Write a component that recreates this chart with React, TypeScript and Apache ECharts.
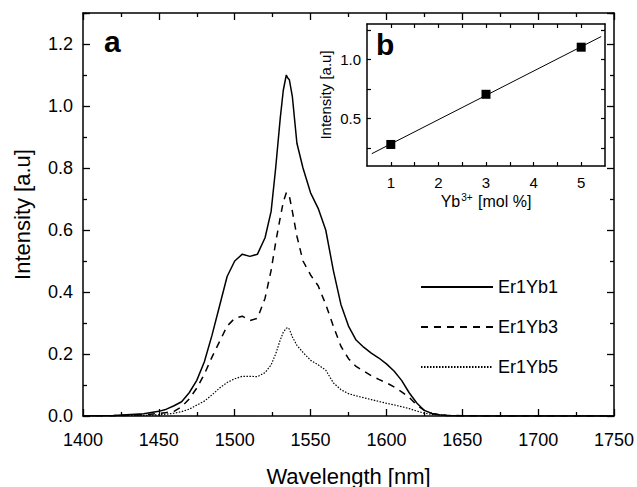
import React, { useEffect, useRef } from "react";
import * as echarts from "echarts";

const wavelengths = [
  1400, 1420, 1440, 1450, 1455, 1460, 1465, 1470, 1475, 1480, 1485, 1490, 1495, 1500, 1505, 1510,
  1515, 1520, 1524, 1527, 1530, 1532, 1534, 1535, 1536, 1538, 1541, 1545, 1550, 1555, 1560, 1565,
  1570, 1575, 1580, 1585, 1590, 1595, 1600, 1605, 1610, 1615, 1620, 1625, 1630, 1635, 1640, 1650,
  1670, 1700, 1750,
];
const er1yb1 = [
  0.0, 0.002, 0.007, 0.015, 0.022, 0.033, 0.046, 0.075, 0.115, 0.175, 0.26, 0.355, 0.45, 0.5, 0.522, 0.515,
  0.522, 0.575, 0.66, 0.8, 0.96, 1.05, 1.1, 1.09, 1.085, 1.03, 0.88, 0.8, 0.72, 0.67, 0.6, 0.47,
  0.36, 0.29, 0.245, 0.222, 0.203, 0.187, 0.168, 0.145, 0.115, 0.075, 0.042, 0.018, 0.008, 0.004, 0.002, 0.001,
  0.0, 0.0, 0.0,
];
const er1yb3 = [
  0.0, 0.001, 0.004, 0.008, 0.011, 0.015, 0.03, 0.055, 0.09, 0.135, 0.19, 0.24, 0.29, 0.315, 0.322, 0.308,
  0.315, 0.38, 0.47, 0.56, 0.64, 0.69, 0.72, 0.72, 0.71, 0.66, 0.58, 0.5, 0.455, 0.42, 0.36, 0.29,
  0.225, 0.185, 0.16, 0.145, 0.13, 0.118, 0.107, 0.094, 0.078, 0.06, 0.035, 0.018, 0.008, 0.004, 0.002, 0.001,
  0.0, 0.0, 0.0,
];
const er1yb5 = [
  0.0, 0.001, 0.002, 0.004, 0.006, 0.009, 0.014, 0.022, 0.035, 0.048, 0.068, 0.09, 0.108, 0.12, 0.128, 0.128,
  0.127, 0.14, 0.165, 0.2, 0.245, 0.27, 0.283, 0.285, 0.28, 0.255, 0.228, 0.205, 0.18, 0.165, 0.148, 0.107,
  0.085, 0.072, 0.065, 0.059, 0.053, 0.047, 0.041, 0.036, 0.03, 0.024, 0.016, 0.009, 0.005, 0.003, 0.001, 0.0,
  0.0, 0.0, 0.0,
];
const seriesNames = ["Er1Yb1", "Er1Yb3", "Er1Yb5"];

const ybContent = [1, 3, 5];
const ybIntensity = [0.282, 0.706, 1.104];
const fitX = [0.6, 5.42];
const fitY = [0.204, 1.194];

const insetXTicks = [1, 1.5, 2, 2.5, 3, 3.5, 4, 4.5, 5];
const insetXLabels = [1, 2, 3, 4, 5];
const insetYTicks = [0.25, 0.5, 0.75, 1.0, 1.25];
const insetYLabels = [0.5, 1.0];

const FONT = "Liberation Sans, Arial, Helvetica, sans-serif";

const axisLine = () => ({ show: true, onZero: false, lineStyle: { color: "#000", width: 1.5 } });
const mainTick = () => ({ show: true, inside: true, length: 7, lineStyle: { color: "#000", width: 1.3 } });
const mainMinor = () => ({ show: true, splitNumber: 2, length: 4, lineStyle: { color: "#000", width: 1.3 } });
const insetTick = (vals: number[]) => ({
  show: true, inside: true, length: 4, customValues: vals, lineStyle: { color: "#000", width: 1.2 },
});

function mainOption(): any {
  const zip = (ys: number[]) => wavelengths.map((w, i) => [w, ys[i]]);
  const dashes: any[] = ["solid", [7, 6], [1.5, 1.5]];
  const datas = [er1yb1, er1yb3, er1yb5];
  return {
    animation: false,
    backgroundColor: "#fff",
    textStyle: { fontFamily: FONT, color: "#000" },
    grid: [{ left: 83, top: 13, right: 23, bottom: 71, outerBoundsMode: "none" }],
    legend: {
      data: seriesNames,
      orient: "vertical",
      left: 420,
      top: 278,
      padding: 0,
      itemWidth: 72,
      itemHeight: 14,
      itemGap: 22,
      itemStyle: { opacity: 0 },
      textStyle: { fontSize: 18, color: "#000", fontFamily: FONT },
    },
    xAxis: [
      {
        type: "value", min: 1400, max: 1750, interval: 50, position: "bottom",
        axisLine: axisLine(), axisTick: mainTick(), minorTick: mainMinor(), splitLine: { show: false },
        axisLabel: { fontSize: 18, color: "#000", margin: 15, fontFamily: FONT, formatter: (v: number) => String(v) },
        name: "Wavelength [nm]", nameLocation: "middle", nameGap: 49,
        nameTextStyle: { fontSize: 22, color: "#000", fontFamily: FONT },
      },
      {
        type: "value", min: 1400, max: 1750, interval: 50, position: "top",
        axisLine: axisLine(), axisTick: mainTick(), minorTick: mainMinor(), splitLine: { show: false },
        axisLabel: { show: false },
      },
    ],
    yAxis: [
      {
        type: "value", min: 0, max: 1.3, interval: 0.2, position: "left",
        axisLine: axisLine(), axisTick: mainTick(), minorTick: mainMinor(), splitLine: { show: false },
        axisLabel: {
          fontSize: 18, color: "#000", margin: 10, fontFamily: FONT,
          formatter: (v: number) => (v > 1.25 ? "" : v.toFixed(1)),
        },
        name: "Intensity [a.u]", nameLocation: "middle", nameGap: 50,
        nameTextStyle: { fontSize: 22, color: "#000", fontFamily: FONT },
      },
      {
        type: "value", min: 0, max: 1.3, interval: 0.2, position: "right",
        axisLine: axisLine(), axisTick: mainTick(), minorTick: mainMinor(), splitLine: { show: false },
        axisLabel: { show: false },
      },
    ],
    series: seriesNames.map((n, i) => ({
      name: n,
      type: "line",
      symbol: "none",
      data: zip(datas[i]),
      lineStyle: { color: "#000", width: i === 2 ? 1.2 : 1.5, type: dashes[i] },
      itemStyle: { color: "#000" },
    })),
    graphic: [
      { type: "text", left: 104, top: 26, style: { text: "a", font: `bold 30px ${FONT}`, fill: "#000" } },
    ],
  };
}

function insetOption(): any {
  return {
    animation: false,
    backgroundColor: "transparent",
    textStyle: { fontFamily: FONT, color: "#000" },
    grid: [{ left: 367, top: 24, right: 32, bottom: 321, outerBoundsMode: "none" }],
    xAxis: [
      {
        type: "value", min: 0.5, max: 5.5, position: "bottom",
        axisLine: axisLine(), axisTick: insetTick(insetXTicks), splitLine: { show: false },
        axisLabel: { customValues: insetXLabels, fontSize: 15, color: "#000", margin: 9, fontFamily: FONT },
        name: "Yb{sup|3+} [mol %]", nameLocation: "middle", nameGap: 26,
        nameTextStyle: {
          fontSize: 16, color: "#000", fontFamily: FONT,
          rich: { sup: { fontSize: 10, verticalAlign: "top", padding: [0, 1, 8, 1], fontFamily: FONT, color: "#000" } },
        },
      },
      {
        type: "value", min: 0.5, max: 5.5, position: "top",
        axisLine: axisLine(), axisTick: insetTick(insetXTicks), splitLine: { show: false },
        axisLabel: { show: false },
      },
    ],
    yAxis: [
      {
        type: "value", min: 0.1, max: 1.3, position: "left",
        axisLine: axisLine(), axisTick: insetTick(insetYTicks), splitLine: { show: false },
        axisLabel: {
          customValues: insetYLabels, fontSize: 15, color: "#000", margin: 6, fontFamily: FONT,
          formatter: (v: number) => v.toFixed(1),
        },
        name: "Intensity [a.u]", nameLocation: "middle", nameGap: 34,
        nameTextStyle: { fontSize: 15, color: "#000", fontFamily: FONT },
      },
      {
        type: "value", min: 0.1, max: 1.3, position: "right",
        axisLine: axisLine(), axisTick: insetTick(insetYTicks), splitLine: { show: false },
        axisLabel: { show: false },
      },
    ],
    series: [
      {
        name: "fit",
        type: "line",
        symbol: "none",
        data: fitX.map((x, i) => [x, fitY[i]]),
        lineStyle: { color: "#000", width: 1 },
      },
      {
        name: "points",
        type: "scatter",
        symbol: "rect",
        symbolSize: 9,
        data: ybContent.map((x, i) => [x, ybIntensity[i]]),
        itemStyle: { color: "#000", opacity: 1 },
      },
    ],
    graphic: [
      { type: "text", left: 376, top: 29, style: { text: "b", font: `bold 30px ${FONT}`, fill: "#000" } },
    ],
  };
}

export default function App() {
  const mainRef = useRef<HTMLDivElement>(null);
  const insetRef = useRef<HTMLDivElement>(null);
  useEffect(() => {
    document.body.style.margin = "0";
    const main = echarts.init(mainRef.current!, null, { renderer: "svg" });
    main.setOption(mainOption());
    const inset = echarts.init(insetRef.current!, null, { renderer: "svg" });
    inset.setOption(insetOption());
    return () => {
      main.dispose();
      inset.dispose();
    };
  }, []);
  return (
    <div style={{ position: "relative", width: 637, height: 487 }}>
      <div ref={mainRef} style={{ position: "absolute", left: 0, top: 0, width: 637, height: 487 }} />
      <div ref={insetRef} style={{ position: "absolute", left: 0, top: 0, width: 637, height: 487, pointerEvents: "none" }} />
    </div>
  );
}
